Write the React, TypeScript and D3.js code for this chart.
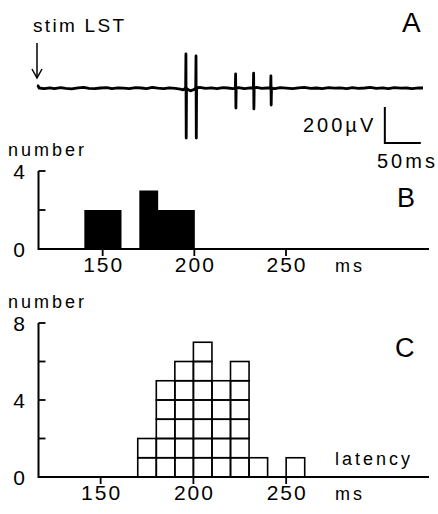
import React, { useEffect, useRef } from "react";
import * as d3 from "d3";

// trace A: baseline wobble (ms, µV)
const baseTimes = [0, 1.5, 3, 10, 18, 24, 33, 40, 48, 57, 65, 72, 80, 88, 97, 104, 112, 120, 128, 137, 145, 152, 160, 168, 176, 184, 192, 199, 203, 208, 213, 218, 226, 234, 242, 250, 258, 265, 272, 280, 288, 296, 305, 312, 320, 330, 338, 346, 355, 363, 371, 380, 388, 396, 405, 413, 421, 430, 438, 446, 455, 463, 471, 480, 488, 496, 505, 513, 521, 530, 536];
const baseValues = [14, 12, 0, -4, 1, -3, 2, -2, -5, 1, 3, -2, -4, 0, 2, -3, 1, -1, -4, 2, 0, -3, 3, -1, -4, 1, -2, -6, -10, -4, -16, -8, 3, -2, 1, -4, 2, 0, -3, 2, -4, 1, 3, -2, 0, -3, 2, -1, -4, 1, 3, -2, 0, -4, 2, -1, 1, -3, 2, -2, 0, 3, -2, 1, -3, 2, -1, 0, -3, 1, 0];
// spikes: time (ms), peak up (µV), peak down (µV)
const spikeTimes = [207, 221, 276, 301, 325];
const spikeUp = [190, 178, 78, 83, 67];
const spikeDown = [278, 278, 111, 116, 95];

// histogram B (filled), 10 ms bins
const binsB = [140, 150, 170, 180, 190];
const countsB = [2, 2, 3, 2, 2];
// histogram C (stacked unit boxes), 10 ms bins
const binsC = [170, 180, 190, 200, 210, 220, 230, 250];
const countsC = [2, 5, 6, 7, 5, 6, 1, 1];

const xTicks = [150, 200, 250];
const yTicksB = [0, 2, 4];
const yTicksC = [0, 2, 4, 6, 8];
const yLabelsB = [0, 4];
const yLabelsC = [0, 4, 8];

const W = 438;
const H = 514;
const FONT = "'Liberation Sans', Arial, Helvetica, sans-serif";

export default function App() {
  const ref = useRef<SVGSVGElement | null>(null);

  useEffect(() => {
    document.body.style.margin = "0";
    const svg = d3.select(ref.current);
    svg.selectAll("*").remove();
    svg.attr("width", W).attr("height", H).style("background", "#fff");

    // ---------- A: trace ----------
    const xT = d3.scaleLinear().domain([0, 536]).range([37, 423]);
    const yT = d3.scaleLinear().domain([-300, 300]).range([142, 34]);

    const pts: [number, number][] = baseTimes.map((t, i) => [t, baseValues[i]]);
    spikeTimes.forEach((t, i) => {
      pts.push([t - 0.6, 0]);
      pts.push([t - 0.2, spikeUp[i]]);
      pts.push([t + 0.2, -spikeDown[i]]);
      pts.push([t + 0.6, 0]);
    });
    pts.sort((a, b) => a[0] - b[0]);

    const line = d3
      .line<[number, number]>()
      .x((d) => xT(d[0]))
      .y((d) => yT(d[1]));

    svg
      .append("path")
      .attr("d", line(pts))
      .attr("fill", "none")
      .attr("stroke", "#000")
      .attr("stroke-width", 2.8)
      .attr("stroke-linejoin", "round");

    // stimulus arrow
    const ax = xT(0);
    svg.append("line").attr("x1", ax).attr("x2", ax).attr("y1", 43).attr("y2", 77)
      .attr("stroke", "#000").attr("stroke-width", 1.5);
    svg.append("path").attr("d", `M${ax - 5},${69} L${ax},${78} L${ax + 5},${69}`)
      .attr("fill", "none").attr("stroke", "#000").attr("stroke-width", 1.5);

    svg.append("text").attr("x", 33).attr("y", 32).text("stim LST")
      .attr("font-size", 19).attr("letter-spacing", 2.3);

    // scale bar 200 µV / 50 ms
    const sbT = 483;
    const sbV = -305;
    svg.append("path")
      .attr("d", `M${xT(sbT)},${yT(sbV + 200)} L${xT(sbT)},${yT(sbV)} L${xT(sbT + 50)},${yT(sbV)}`)
      .attr("fill", "none").attr("stroke", "#000").attr("stroke-width", 2);
    svg.append("text").attr("x", 303).attr("y", 132).text("200µV")
      .attr("font-size", 20).attr("letter-spacing", 3);
    svg.append("text").attr("x", 377).attr("y", 168).text("50ms")
      .attr("font-size", 20).attr("letter-spacing", 3);

    svg.append("text").attr("x", 402).attr("y", 32).text("A").attr("font-size", 28);

    // ---------- histogram axes helper ----------
    const drawAxes = (
      g: d3.Selection<SVGGElement, unknown, null, undefined>,
      x: d3.ScaleLinear<number, number>,
      y: d3.ScaleLinear<number, number>,
      yTicks: number[],
      yLabels: number[],
      top: number
    ) => {
      const x0 = x.range()[0];
      const y0 = y(0);
      g.append("path")
        .attr("d", `M${x0},${y(top)} L${x0},${y0} L${x.range()[1]},${y0}`)
        .attr("fill", "none").attr("stroke", "#000").attr("stroke-width", 2);
      g.selectAll(".yt").data(yTicks.filter((v) => v > 0)).enter().append("line")
        .attr("x1", x0).attr("x2", x0 + 7).attr("y1", (d) => y(d)).attr("y2", (d) => y(d))
        .attr("stroke", "#000").attr("stroke-width", 1.8);
      g.selectAll(".xt").data(xTicks).enter().append("line")
        .attr("x1", (d) => x(d)).attr("x2", (d) => x(d)).attr("y1", y0).attr("y2", y0 + 7)
        .attr("stroke", "#000").attr("stroke-width", 1.8);
      g.selectAll(".xl").data(xTicks).enter().append("text")
        .attr("x", (d) => x(d) + 1).attr("y", y0 + 23).attr("text-anchor", "middle")
        .attr("font-size", 21).attr("letter-spacing", 2).text((d) => d);
      g.selectAll(".yl").data(yLabels).enter().append("text")
        .attr("x", 25).attr("y", (d) => y(d) + 7.5).attr("text-anchor", "end")
        .attr("font-size", 21).text((d) => d);
      g.append("text").attr("x", 335).attr("y", y0 + 23).text("ms")
        .attr("font-size", 18).attr("letter-spacing", 3);
      g.append("text").attr("x", 8).attr("y", y(top) - 15).text("number")
        .attr("font-size", 18).attr("letter-spacing", 3);
    };

    // ---------- B ----------
    const xB = d3.scaleLinear().domain([115, 328]).range([38.5, 429]);
    const yB = d3.scaleLinear().domain([0, 4]).range([249, 171]);
    const gB = svg.append("g");
    gB.selectAll("rect").data(binsB).enter().append("rect")
      .attr("x", (d) => xB(d)).attr("width", (d) => xB(d + 10) - xB(d) + 0.5)
      .attr("y", (d, i) => yB(countsB[i])).attr("height", (d, i) => yB(0) - yB(countsB[i]))
      .attr("fill", "#000");
    drawAxes(gB, xB, yB, yTicksB, yLabelsB, 4);
    gB.append("text").attr("x", 397).attr("y", 207).text("B").attr("font-size", 27);

    // ---------- C ----------
    const xC = d3.scaleLinear().domain([116.5, 327]).range([38.5, 429]);
    const yC = d3.scaleLinear().domain([0, 8]).range([477, 323]);
    const gC = svg.append("g");
    const boxes: { b: number; k: number }[] = [];
    binsC.forEach((b, i) => {
      d3.range(countsC[i]).forEach((k) => boxes.push({ b, k }));
    });
    gC.selectAll("rect").data(boxes).enter().append("rect")
      .attr("x", (d) => xC(d.b)).attr("width", (d) => xC(d.b + 10) - xC(d.b))
      .attr("y", (d) => yC(d.k + 1)).attr("height", (d) => yC(d.k) - yC(d.k + 1))
      .attr("fill", "none").attr("stroke", "#000").attr("stroke-width", 1.6);
    drawAxes(gC, xC, yC, yTicksC, yLabelsC, 8);
    gC.append("text").attr("x", 395).attr("y", 357).text("C").attr("font-size", 27);
    gC.append("text").attr("x", 335).attr("y", 465).text("latency")
      .attr("font-size", 18).attr("letter-spacing", 3);

    svg.selectAll("text").attr("font-family", FONT).attr("fill", "#000");
  }, []);

  return <svg ref={ref}></svg>;
}
